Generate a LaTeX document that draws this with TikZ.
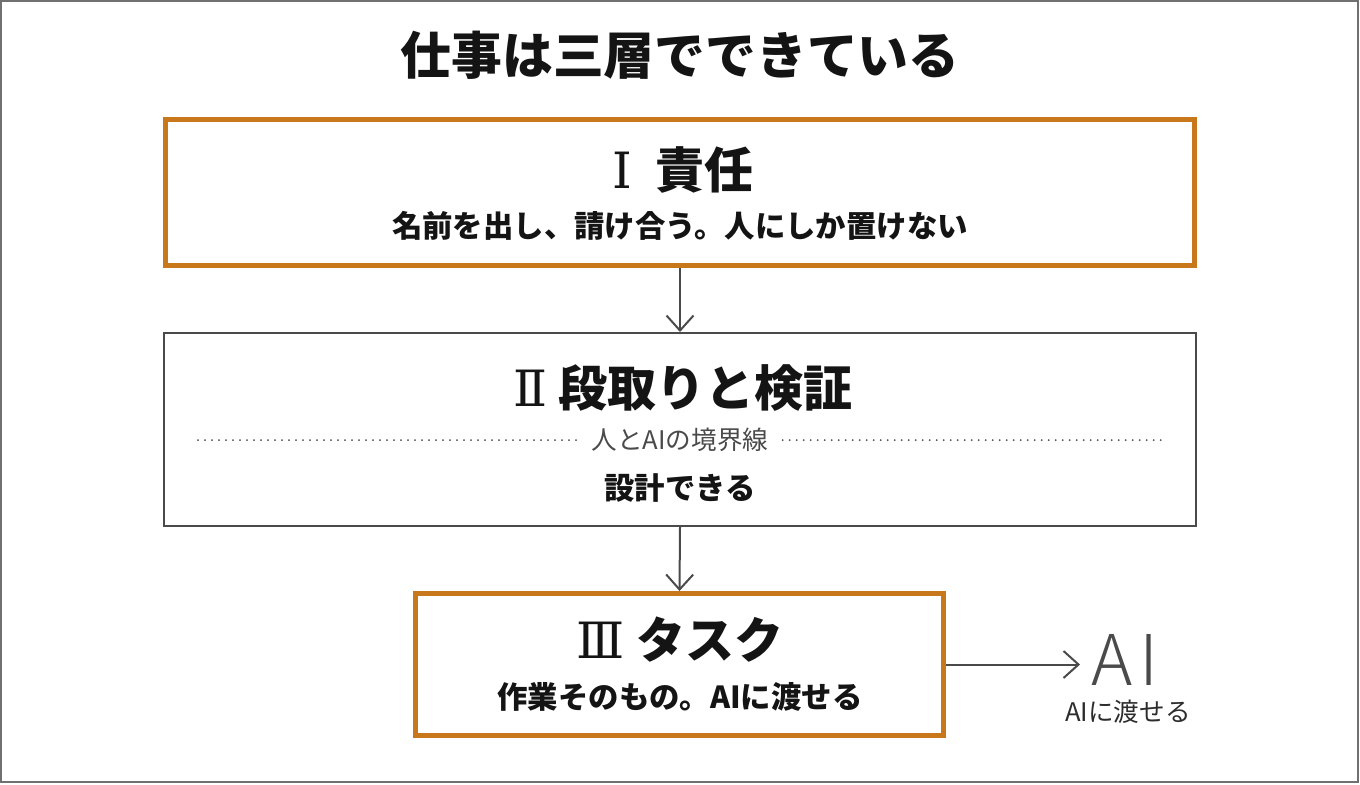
\documentclass[tikz,border=0pt]{standalone}
\usepackage{fontspec}
\setmainfont{Noto Sans CJK JP}
\newfontfamily\thinfont{Noto Sans CJK JP Light}
\newfontfamily\numfont{DejaVu Serif}
\usepackage{xcolor}
\usetikzlibrary{arrows.meta}
\usetikzlibrary{positioning}
\definecolor{LayerOrange}{HTML}{C8771A}
\definecolor{LineGray}{HTML}{4A4A4A}
\definecolor{FrameGray}{HTML}{707070}
\definecolor{InkBlack}{HTML}{141414}
\newcommand{\LayerNo}[1]{{\numfont\mdseries\fontsize{25pt}{28pt}\selectfont #1}}

\begin{document}
\begin{tikzpicture}[
		x=0.5pt, y=-0.5pt,
		OrangeBox/.style={draw=LayerOrange,line width=2.5pt,inner sep=0pt},
		GrayBox/.style={draw=LineGray,line width=1pt,inner sep=0pt},
		FlowArrow/.style={draw=LineGray,line width=1pt,-{Straight Barb[length=7.5pt,width=13.5pt]}},
		BoxTitle/.style={font=\bfseries\fontsize{24.5pt}{27pt}\selectfont,text=InkBlack,inner sep=0pt},
		BoxText/.style={font=\bfseries\fontsize{15.2pt}{18pt}\selectfont,text=InkBlack,inner sep=0pt},
		SmallText/.style={font=\fontsize{12.8pt}{15pt}\selectfont,text=LineGray,inner sep=0pt},
		BorderDots/.style={draw=LineGray,line width=1pt,line cap=round,dash pattern=on 0pt off 3.5pt}
		]

		\useasboundingbox (0,0) rectangle (1360,784);
		\draw[FrameGray, line width=1.2pt] (1,1) rectangle (1358,782);

		\node[font=\bfseries\fontsize{25.4pt}{28pt}\selectfont,text=InkBlack] (Title) at (680,55) {仕事は三層でできている};

		% the three layers
		\node[OrangeBox, minimum width=514.5pt, minimum height=73pt] (Resp) at (680,192.5) {};
		\node[GrayBox, minimum width=516pt, minimum height=96.5pt] (Plan) at (680,429.5) {};
		\node[OrangeBox, minimum width=264pt, minimum height=71pt] (Task) at (679.5,664.5) {};

		\node[BoxTitle] (RespTitle) at (683,170) {\LayerNo{Ⅰ}\ \ 責任};
		\node[BoxText] (RespText) at (680,226) {名前を出し、請け合う。人にしか置けない};

		\node[BoxTitle] (PlanTitle) at (683,388) {\LayerNo{Ⅱ} 段取りと検証};
		\node[SmallText, inner xsep=7pt] (Line) at (680,440) {人とAIの境界線};
		\coordinate (DotL) at (198,440);
		\coordinate (DotR) at (1162,440);
		\draw[BorderDots] (DotL) -- (Line.west);
		\draw[BorderDots] (Line.east) -- (DotR);
		\node[BoxText] (PlanText) at (680,488) {設計できる};

		\node[BoxTitle] (TaskTitle) at (680,640) {\LayerNo{Ⅲ} タスク};
		\node[BoxText] (TaskText) at (680,697) {作業そのもの。AIに渡せる};

		% flow
		\draw[FlowArrow] (Resp.south) -- (Plan.north);
		\draw[FlowArrow] (Plan.south) -- (Task.north);

		\coordinate (AIArrowEnd) at (1080,664.5);
		\draw[FlowArrow] (Task.east) -- (AIArrowEnd);

		\node[font=\thinfont\fontsize{35pt}{38pt}\selectfont,text=LineGray,inner sep=0pt] (AI) at (1125,660) {A\kern3pt I};
		\node[SmallText, text=InkBlack!90] (AIText) at (1128,712) {AIに渡せる};

\end{tikzpicture}
\end{document}
